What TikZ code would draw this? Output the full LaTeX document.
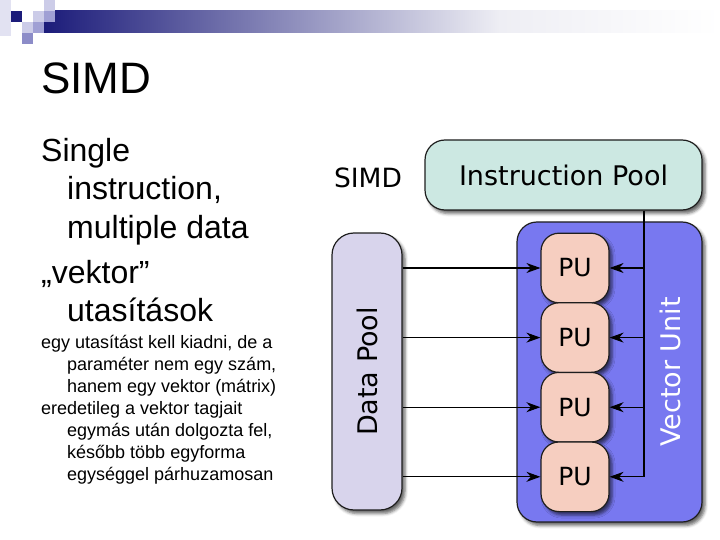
\documentclass[tikz,border=0pt]{standalone}
\usepackage{fontspec}
\setmainfont{Liberation Sans}
\newfontfamily\dejavu{DejaVu Sans}
\usepackage{graphicx}
\usepackage{xcolor}
\usepackage{tikz}
\usetikzlibrary{arrows.meta,positioning,shadows.blur}
\definecolor{barnavy}{RGB}{28,28,122}
\definecolor{barfade}{RGB}{238,238,244}
\definecolor{sqpale}{RGB}{226,226,242}
\definecolor{sqlight}{RGB}{204,204,232}
\definecolor{sqmid}{RGB}{160,160,212}
\definecolor{sqdeep}{RGB}{140,140,200}
\definecolor{instrfill}{RGB}{204,232,226}
\definecolor{datafill}{RGB}{216,212,236}
\definecolor{vecfill}{RGB}{120,120,240}
\definecolor{pufill}{RGB}{246,206,192}
\definecolor{edge}{RGB}{30,30,30}

\begin{document}
\begin{tikzpicture}[x=1pt,y=-1pt,
    bigtext/.style={anchor=base west,inner sep=0pt,font=\fontsize{32}{38}\selectfont},
    smalltext/.style={anchor=base west,inner sep=0pt,font=\fontsize{18}{22}\selectfont},
    pool/.style={draw=edge,line width=1.2pt,rounded corners=20pt,inner sep=0pt,
      font=\dejavu\fontsize{27}{32}\selectfont,
      blur shadow={shadow xshift=3pt,shadow yshift=-3.5pt,shadow blur radius=3pt,shadow opacity=60}},
    pubox/.style={pool,fill=pufill,rounded corners=18pt,minimum width=68pt,minimum height=69.6pt,
      font=\dejavu\fontsize{25}{30}\selectfont},
    wire/.style={line width=1.1pt,black},
    arr/.style={wire,-{Stealth[length=14pt,width=10pt,inset=4.5pt]}}]
  \useasboundingbox (0,0) rectangle (720,540);
  % slide decoration
  \shade[left color=barnavy,right color=barfade] (44,11) rectangle (500,33);
  \shade[left color=barfade,right color=white] (500,11) rectangle (720,33);
  \fill[sqpale] (0,0) rectangle (11,36);
  \fill[barnavy] (11,11) rectangle (22,22);
  \fill[sqlight] (33,11) rectangle (44,22);
  \fill[sqlight] (44,0) rectangle (55,11);
  \fill[sqmid] (44,11) rectangle (55,22);
  \fill[sqlight] (22,22) rectangle (33,33);
  \fill[sqmid] (33,22) rectangle (44,33);
  \fill[sqdeep] (22,33) rectangle (33,44);
  % title and bullets
  \node[anchor=base west,inner sep=0pt,font=\fontsize{44}{50}\selectfont] (title) at (41,94) {SIMD};
  \foreach \i/\xx/\yy/\txt in {1/41/162/Single,2/67/200/{instruction,},3/67/238/multiple data,
      4/41/283/{„vektor”},5/67/321/utasítások}
    \node[bigtext] (big\i) at (\xx,\yy) {\txt};
  \foreach \i/\xx/\yy/\txt in {1/41/348/{egy utasítást kell kiadni, de a},
      2/67/370/{paraméter nem egy szám,},3/67/392/hanem egy vektor (mátrix),
      4/41/414/eredetileg a vektor tagjait,5/67/436/{egymás után dolgozta fel,},
      6/67/458/később több egyforma,7/67/480/egységgel párhuzamosan}
    \node[smalltext] (small\i) at (\xx,\yy) {\txt};
  % diagram
  \node[font=\dejavu\fontsize{26.5}{30}\selectfont] (simd) at (368,178) {SIMD};
  \node[pool,fill=instrfill,minimum width=277pt,minimum height=70pt] (ipool) at (563.5,175) {Instruction Pool};
  \node[pool,fill=datafill,rounded corners=22pt,minimum width=70pt,minimum height=277pt] (dpool) at (367,371.5)
    {\rotatebox{90}{Data Pool}};
  \node[pool,fill=vecfill,minimum width=185pt,minimum height=300pt] (vunit) at (609.5,372) {};
  \node[font=\dejavu\fontsize{27}{32}\selectfont,white,rotate=90] (vlabel) at (670,372) {Vector Unit};
  \foreach \i/\yy in {1/268,2/337.6,3/407.2,4/476.8}
    \node[pubox] (pu\i) at (575,\yy) {PU};
  \coordinate (bus) at (644,0);
  \draw[wire] (ipool.south -| bus) -- (bus |- pu4);
  \foreach \i in {1,...,4}{
    \draw[arr] (dpool.east |- pu\i) -- (pu\i.west);
    \draw[arr] (bus |- pu\i) -- (pu\i.east);}
\end{tikzpicture}
\end{document}
